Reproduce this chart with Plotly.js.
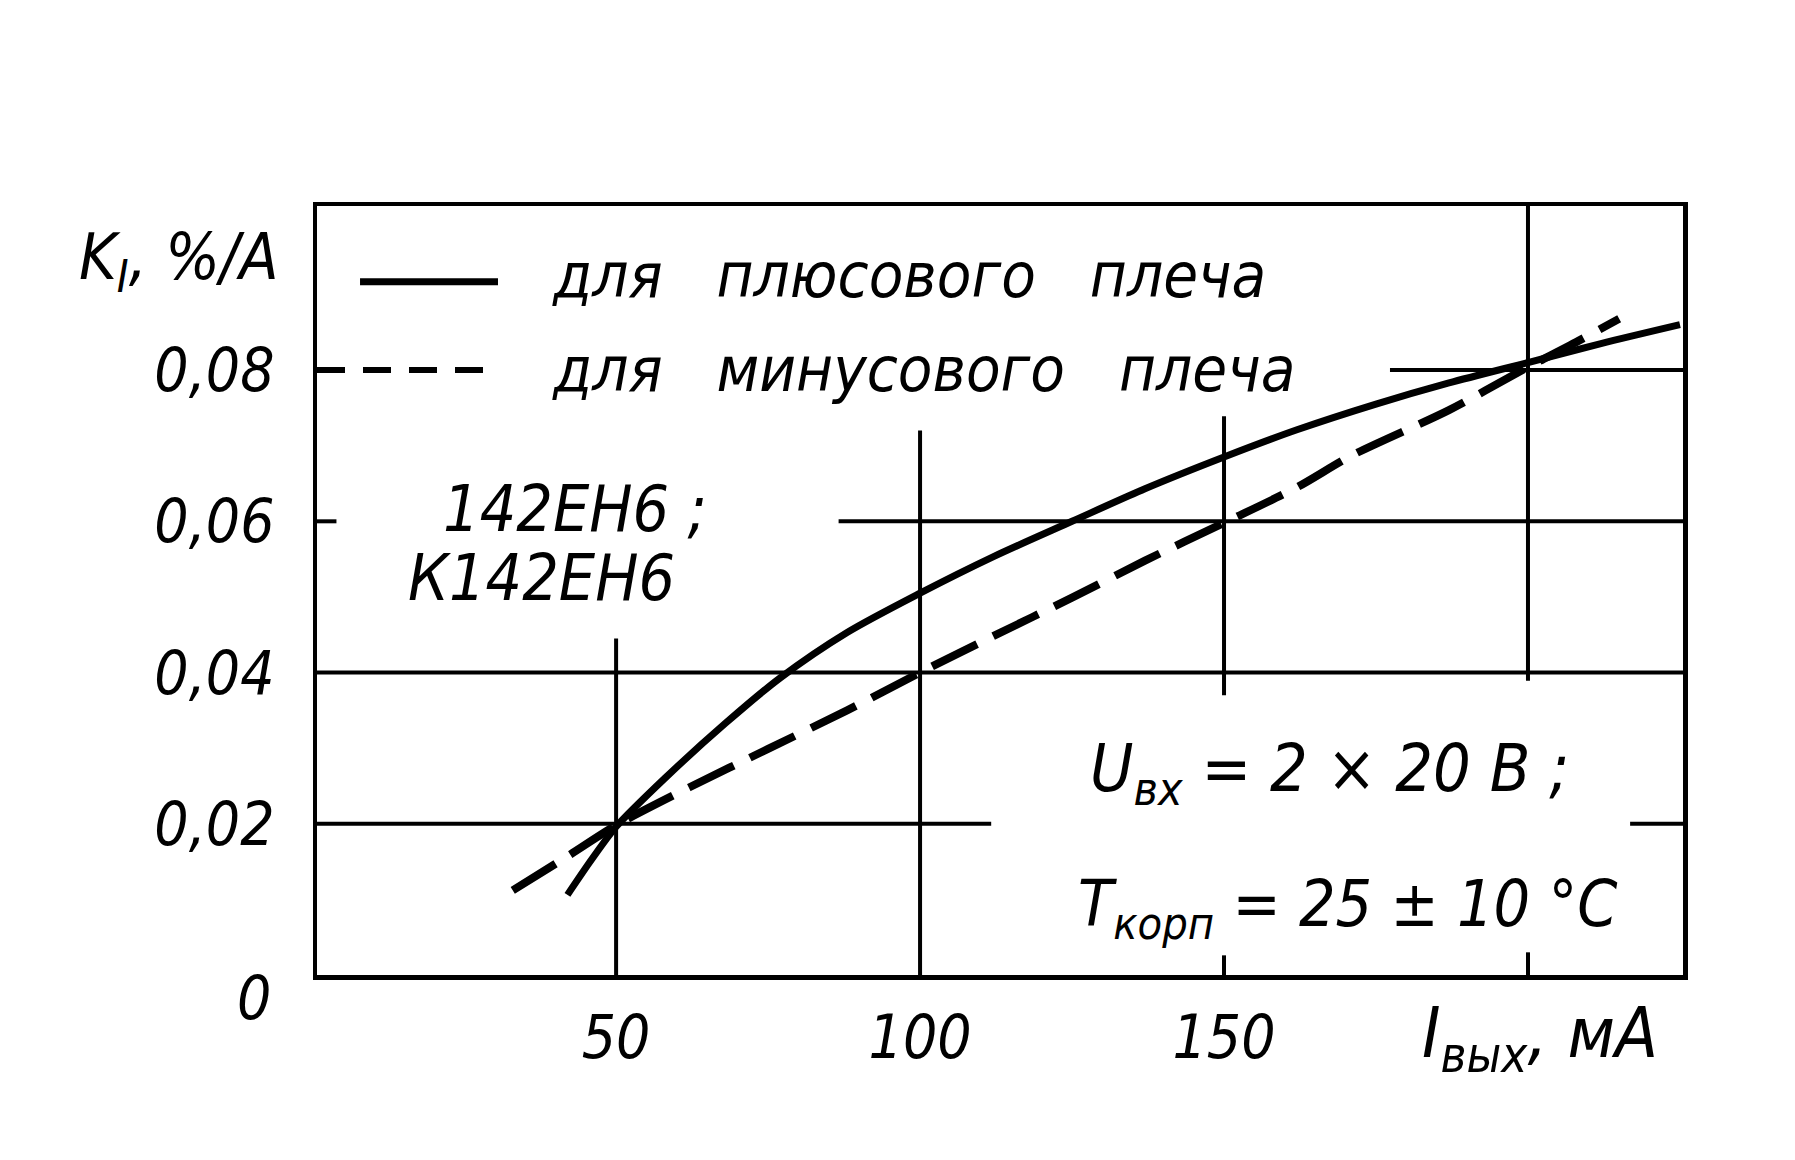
<!DOCTYPE html>
<html>
<head>
<meta charset="utf-8">
<script src="https://cdn.plot.ly/plotly-3.0.1.min.js"></script>
<style>html,body{margin:0;padding:0;background:#fff;}#chart{width:1795px;height:1160px;}</style>
</head>
<body>
<div id="chart"></div>
<script>
// ---- data ----
const currentPlus = [42, 46, 50, 58, 68, 77, 88, 100, 112, 125, 137, 150, 162, 175, 187, 200, 212, 225];
const kiPlus      = [0.0106, 0.0153, 0.0196, 0.0260, 0.0333, 0.0393, 0.0453, 0.0505, 0.0553, 0.0600, 0.0643, 0.0685, 0.0721, 0.0755, 0.0783, 0.0810, 0.0835, 0.0860];

const currentMinus = [33, 42, 50, 62, 75, 88, 100, 112, 125, 137, 150, 162, 171, 187, 200, 207, 215];
const kiMinus      = [0.0112, 0.0157, 0.0198, 0.0248, 0.0299, 0.0350, 0.0400, 0.0448, 0.0499, 0.0548, 0.0598, 0.0645, 0.0687, 0.0747, 0.0804, 0.0833, 0.0868];

const xTickVals = [50, 100, 150];
const xTickText = ["50", "100", "150"];
const yTickVals = [0.02, 0.04, 0.06, 0.08];
const yTickText = ["0,02", "0,04", "0,06", "0,08"];

const legendPlus  = "для   плюсового   плеча";
const legendMinus = "для   минусового   плеча";

// ---- layout helpers ----
const X_RANGE = [0.8, 225.5];
const Y_RANGE = [0, 0.1017];
const FONT = "'DejaVu Sans Condensed', 'Liberation Sans Narrow', 'DejaVu Sans', sans-serif";
const INK = "#000";

// broken grid segments (the drawing leaves gaps around the text)
const hGrid = [
  {v: 0.08, segs: [[X_RANGE[0], 4], [177.3, X_RANGE[1]]]},
  {v: 0.06, segs: [[X_RANGE[0], 4], [86.6, X_RANGE[1]]]},
  {v: 0.04, segs: [[X_RANGE[0], X_RANGE[1]]]},
  {v: 0.02, segs: [[X_RANGE[0], 111.7], [216.8, X_RANGE[1]]]}
];
const vGrid = [
  {v: 50,  segs: [[0, 0.0445]]},
  {v: 100, segs: [[0, 0.0720]]},
  {v: 150, segs: [[0, 0.0026], [0.0370, 0.0739]]},
  {v: 200, segs: [[0, 0.0030], [0.0389, Y_RANGE[1]]]}
];

const shapes = [];
hGrid.forEach(g => g.segs.forEach(s => shapes.push({
  type: 'line', xref: 'x', yref: 'y', x0: s[0], x1: s[1], y0: g.v, y1: g.v,
  line: {color: INK, width: 4}, layer: 'below'
})));
vGrid.forEach(g => g.segs.forEach(s => shapes.push({
  type: 'line', xref: 'x', yref: 'y', x0: g.v, x1: g.v, y0: s[0], y1: s[1],
  line: {color: INK, width: 4}, layer: 'below'
})));
// legend samples
shapes.push({type: 'line', xref: 'paper', yref: 'paper', x0: 0.0315, x1: 0.1325, y0: 0.9016, y1: 0.9016,
  line: {color: INK, width: 7}});
shapes.push({type: 'line', xref: 'paper', yref: 'y', x0: 0.0, x1: 0.1325, y0: 0.08, y1: 0.08,
  line: {color: INK, width: 6, dash: '28px,18px'}});

const traces = [
  {x: currentPlus, y: kiPlus, mode: 'lines', line: {color: INK, width: 7, shape: 'spline', smoothing: 0.8},
   name: legendPlus, hoverinfo: 'skip'},
  {x: currentMinus, y: kiMinus, mode: 'lines', line: {color: INK, width: 8, shape: 'spline', smoothing: 0.8, dash: '50px,18px'},
   name: legendMinus, hoverinfo: 'skip'}
];

const ann = (text, x, y, size, xanchor, extra) => Object.assign({
  text: text, x: x, y: y, xref: 'paper', yref: 'paper', showarrow: false,
  xanchor: xanchor || 'left', yanchor: 'middle',
  font: {family: FONT, size: size, color: INK, style: 'italic'}
}, extra || {});

const annotations = [
  ann("K<sub>I</sub>, %/А", -0.026, 0.928, 64, 'right'),
  ann(legendPlus, 0.1706, 0.910, 63),
  ann(legendMinus, 0.1706, 0.788, 63),
  ann("142ЕН6 ;", 0.0908, 0.606, 64),
  ann("К142ЕН6", 0.0652, 0.516, 64),
  ann("U<sub>вх</sub> = 2 × 20 В ;", 0.5644, 0.263, 66),
  ann("T<sub>корп</sub> = 25 ± 10 °С", 0.5556, 0.086, 64),
  ann("0", -0.046, -0.030, 60, 'center'),
  ann("I<sub>вых</sub>, мА", 0.8075, -0.082, 70)
];

const layout = {
  width: 1795, height: 1160,
  paper_bgcolor: '#fff', plot_bgcolor: '#fff',
  margin: {l: 317, r: 112, t: 206, b: 185},
  showlegend: false,
  font: {family: FONT, color: INK, style: 'italic'},
  xaxis: {
    range: X_RANGE, tickvals: xTickVals, ticktext: xTickText,
    showgrid: false, zeroline: false, ticks: '',
    showline: true, mirror: true, linecolor: INK, linewidth: 4.5,
    tickfont: {family: FONT, size: 60, color: INK, style: 'italic'},
    ticklabelstandoff: 6
  },
  yaxis: {
    range: Y_RANGE, tickvals: yTickVals, ticktext: yTickText,
    showgrid: false, zeroline: false, ticks: '',
    showline: true, mirror: true, linecolor: INK, linewidth: 4.5,
    tickfont: {family: FONT, size: 60, color: INK, style: 'italic'},
    ticklabelstandoff: 26
  },
  shapes: shapes,
  annotations: annotations
};

Plotly.newPlot('chart', traces, layout, {staticPlot: true, displayModeBar: false});
</script>
</body>
</html>
